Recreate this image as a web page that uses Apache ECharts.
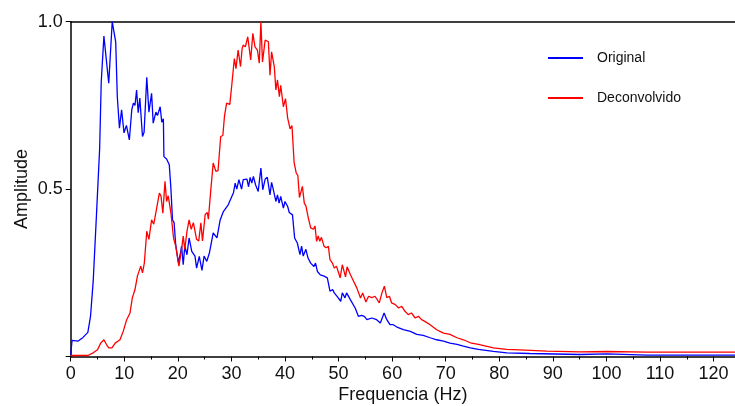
<!DOCTYPE html>
<html>
<head>
<meta charset="utf-8">
<script src="https://cdn.jsdelivr.net/npm/echarts@6/dist/echarts.min.js"></script>
<style>
  html, body { margin: 0; padding: 0; background: #fff; }
  #main { width: 735px; height: 406px; }
</style>
</head>
<body>
<div id="main"></div>
<script>
// Original spectrum (blue) - frequency (Hz) and amplitude
var origFreq = [0, 0.25, 1.4, 2.3, 3.2, 3.7, 4.2, 4.8, 5.4, 5.7, 6.2, 7.1, 7.75, 8.4, 8.7, 9.1, 9.5, 9.95, 10.4, 10.95,
  11.4, 11.7, 12.0, 12.3, 12.6, 12.9, 13.4, 13.7, 14.2, 14.6, 15.1, 15.4, 15.9, 16.2, 16.7, 17.0, 17.3, 17.4, 17.9, 18.4,
  18.7, 19.0, 19.3, 19.6, 20.1, 20.5, 20.7, 21.0, 21.3, 21.7, 22.1, 22.6, 23.2, 23.5, 24.0, 24.5, 24.9, 25.4, 25.9, 26.6,
  27.3, 27.9, 28.5, 29.4, 29.75, 30.4, 30.7, 31.0, 31.4, 31.9, 32.2, 32.9, 33.2, 33.5, 33.8, 34.1, 34.5, 35.0, 35.5, 35.85,
  36.3, 36.7, 37.2, 37.5, 37.8, 38.3, 38.6, 38.9, 39.2, 39.7, 40.0, 40.5, 40.8, 41.4, 41.8, 42.3, 42.8, 43.1, 43.4, 43.9,
  44.3, 44.8, 45.4, 45.7, 46.05, 46.6, 47.3, 47.9, 48.4, 48.9, 49.2, 49.8, 50.4, 50.7, 50.9, 51.2, 51.5, 52.2, 52.5, 53.1,
  53.7, 54.3, 54.8, 55.3, 56.2, 57.1, 57.8, 58.5, 59.0, 59.6, 60.2, 60.9, 62.1, 63.4, 64.6, 65.8, 67.1, 68.3, 69.6, 70.8,
  72.1, 73.3, 74.6, 76.1, 78.9, 81.4, 85.7, 95.1, 100.1, 107.6, 124];
var origAmp = [0.005, 0.048, 0.046, 0.057, 0.072, 0.12, 0.225, 0.42, 0.62, 0.82, 0.957, 0.816, 1.0, 0.94, 0.776, 0.682, 0.737, 0.668, 0.69, 0.647,
  0.737, 0.757, 0.75, 0.796, 0.728, 0.772, 0.657, 0.67, 0.834, 0.73, 0.786, 0.697, 0.73, 0.72, 0.746, 0.70, 0.71, 0.597, 0.59, 0.573,
  0.503, 0.408, 0.40, 0.334, 0.28, 0.31, 0.33, 0.274, 0.33, 0.304, 0.354, 0.314, 0.30, 0.264, 0.299, 0.257, 0.30, 0.284, 0.31, 0.369,
  0.354, 0.408, 0.433, 0.453, 0.448, 0.49, 0.518, 0.5, 0.528, 0.5, 0.528, 0.53, 0.507, 0.535, 0.518, 0.538, 0.513, 0.493, 0.563, 0.498,
  0.53, 0.535, 0.483, 0.52, 0.5, 0.463, 0.483, 0.458, 0.478, 0.443, 0.463, 0.448, 0.43, 0.423, 0.354, 0.339, 0.304, 0.33, 0.30, 0.32,
  0.294, 0.279, 0.269, 0.279, 0.254, 0.244, 0.24, 0.235, 0.195, 0.20, 0.19, 0.178, 0.165, 0.19, 0.195, 0.175, 0.19, 0.17, 0.165, 0.145,
  0.12, 0.123, 0.12, 0.11, 0.115, 0.11, 0.10, 0.13, 0.11, 0.095, 0.095, 0.088, 0.08, 0.075, 0.066, 0.063, 0.056, 0.05, 0.046, 0.04,
  0.036, 0.031, 0.026, 0.021, 0.015, 0.011, 0.009, 0.006, 0.008, 0.004, 0.004];

// Deconvolved spectrum (red)
var deconvFreq = [0, 3.2, 4.2, 5.0, 5.6, 6.2, 6.7, 7.1, 7.7, 8.3, 9.2, 9.8, 10.45, 11.07, 11.5, 12.0, 12.45, 12.8, 13.07, 13.4,
  13.75, 14.2, 14.6, 15.1, 15.5, 16.05, 16.55, 16.85, 17.2, 17.6, 17.9, 18.2, 18.7, 19.2, 19.6, 20.2, 20.7, 21.0, 21.3, 21.7,
  22.1, 22.5, 22.9, 23.5, 23.9, 24.3, 24.6, 25.1, 25.5, 25.7, 26.1, 26.6, 27.1, 27.5, 28.0, 28.4, 28.7, 29.1, 29.7, 30.1,
  30.55, 30.85, 31.25, 31.7, 32.0, 32.2, 32.6, 33.05, 33.6, 34.0, 34.4, 34.85, 35.2, 35.5, 35.8, 36.3, 36.9, 37.2, 37.5, 38.0,
  38.3, 38.6, 38.95, 39.2, 39.7, 40.1, 40.5, 40.95, 41.3, 41.7, 42.1, 42.4, 42.7, 43.25, 43.6, 43.9, 44.3, 44.8, 45.3, 45.6,
  45.9, 46.2, 46.5, 46.8, 47.3, 47.7, 48.1, 48.4, 48.85, 49.2, 49.6, 50.0, 50.3, 50.7, 50.9, 51.3, 51.6, 52.2, 52.8, 53.4,
  54.1, 54.5, 55.1, 55.6, 56.2, 56.8, 57.6, 58.1, 58.55, 59.0, 59.5, 59.9, 60.6, 61.2, 61.8, 62.4, 63.0, 63.6, 64.3, 64.9,
  65.5, 66.1, 67.1, 68.3, 69.6, 70.8, 72.1, 73.3, 74.6, 76.1, 78.9, 81.4, 83.8, 88.9, 95.1, 100.1, 107.6, 124];
var deconvAmp = [0.003, 0.003, 0.011, 0.02, 0.04, 0.05, 0.035, 0.026, 0.026, 0.04, 0.05, 0.075, 0.11, 0.13, 0.175, 0.2, 0.24, 0.245, 0.27, 0.25,
  0.28, 0.374, 0.35, 0.408, 0.395, 0.443, 0.488, 0.48, 0.428, 0.523, 0.463, 0.48, 0.43, 0.354, 0.33, 0.27, 0.32, 0.36, 0.32, 0.374,
  0.408, 0.38, 0.40, 0.35, 0.345, 0.399, 0.345, 0.424, 0.43, 0.41, 0.488, 0.578, 0.553, 0.555, 0.657, 0.66, 0.717, 0.757, 0.753, 0.816,
  0.89, 0.86, 0.915, 0.866, 0.92, 0.93, 0.925, 0.955, 0.886, 0.965, 0.925, 0.915, 0.876, 1.0, 0.88, 0.945, 0.94, 0.84, 0.91, 0.866,
  0.796, 0.826, 0.776, 0.81, 0.746, 0.77, 0.712, 0.68, 0.69, 0.58, 0.548, 0.54, 0.475, 0.508, 0.458, 0.45, 0.418, 0.384, 0.38, 0.39,
  0.344, 0.36, 0.344, 0.356, 0.329, 0.325, 0.329, 0.289, 0.279, 0.264, 0.27, 0.25, 0.235, 0.274, 0.274, 0.238, 0.268, 0.245, 0.225, 0.205,
  0.175, 0.19, 0.163, 0.18, 0.176, 0.18, 0.16, 0.19, 0.21, 0.176, 0.18, 0.16, 0.155, 0.145, 0.15, 0.135, 0.125, 0.13, 0.115, 0.12,
  0.11, 0.105, 0.095, 0.08, 0.07, 0.066, 0.056, 0.05, 0.041, 0.036, 0.026, 0.021, 0.02, 0.016, 0.014, 0.015, 0.013, 0.013];

var seriesNames = ['Original', 'Deconvolvido'];
var seriesColors = ['#0000ff', '#ff0000'];

function pairs(xs, ys) {
  var out = [];
  for (var i = 0; i < xs.length; i++) out.push([xs[i], ys[i]]);
  return out;
}

var font = '"Liberation Sans", Arial, sans-serif';
var chart = echarts.init(document.getElementById('main'));
chart.setOption({
  animation: false,
  backgroundColor: '#fff',
  grid: { left: 70.7, right: 0, top: 21.7, bottom: 49.5, outerBoundsMode: 'none', containLabel: false },
  legend: {
    orient: 'vertical',
    left: 548,
    top: 51,
    padding: 0,
    itemWidth: 35,
    itemHeight: 2,
    itemGap: 26,
    icon: 'rect',
    textStyle: { fontFamily: font, fontSize: 14, color: '#111', padding: [0, 0, 0, 9] },
    data: seriesNames
  },
  xAxis: [{
    type: 'value',
    min: 0,
    max: 124,
    interval: 10,
    name: 'Frequencia (Hz)',
    nameLocation: 'middle',
    nameGap: 30,
    nameMoveOverlap: false,
    nameTextStyle: { fontFamily: font, fontSize: 18, color: '#111' },
    axisLine: { lineStyle: { color: '#000', width: 1.5 } },
    axisTick: { length: 5, lineStyle: { color: '#000' } },
    minorTick: { show: true, splitNumber: 2, length: 3, lineStyle: { color: '#000' } },
    axisLabel: { fontFamily: font, fontSize: 18, color: '#111', margin: 9, showMaxLabel: false },
    splitLine: { show: false }
  }, {
    type: 'value',
    position: 'top',
    min: 0,
    max: 124,
    axisLine: { show: true, lineStyle: { color: '#000', width: 1.5 } },
    axisTick: { show: false },
    axisLabel: { show: false },
    splitLine: { show: false }
  }],
  yAxis: {
    type: 'value',
    min: 0,
    max: 1,
    interval: 0.5,
    name: 'Amplitude',
    nameLocation: 'middle',
    nameGap: 40,
    nameMoveOverlap: false,
    nameTextStyle: { fontFamily: font, fontSize: 18, color: '#111' },
    axisLine: { show: true, lineStyle: { color: '#000', width: 1.5 } },
    axisTick: { show: true, length: 5, lineStyle: { color: '#000' } },
    axisLabel: {
      fontFamily: font, fontSize: 18, color: '#111', margin: 8,
      formatter: function (v) { return v === 0 ? '' : v.toFixed(1); }
    },
    splitLine: { show: false }
  },
  series: [{
    name: seriesNames[0],
    type: 'line',
    showSymbol: false,
    symbol: 'none',
    color: seriesColors[0],
    lineStyle: { width: 1.3 },
    data: pairs(origFreq, origAmp)
  }, {
    name: seriesNames[1],
    type: 'line',
    showSymbol: false,
    symbol: 'none',
    color: seriesColors[1],
    lineStyle: { width: 1.3 },
    data: pairs(deconvFreq, deconvAmp)
  }]
});
</script>
</body>
</html>
